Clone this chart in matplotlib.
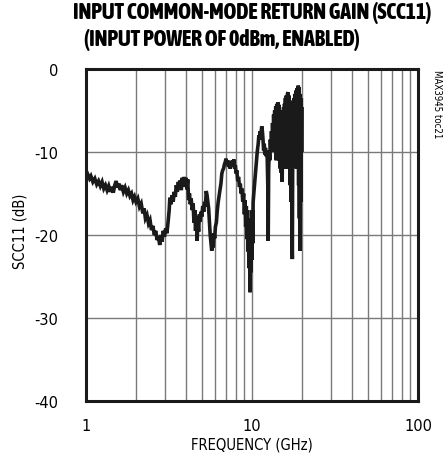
import matplotlib
matplotlib.use("Agg")
import matplotlib.pyplot as plt
from matplotlib import font_manager
from matplotlib.font_manager import FontProperties

freq_ghz = [
    1.01, 1.03, 1.05, 1.07, 1.10, 1.13, 1.16, 1.19, 1.22, 1.25, 1.28, 1.31, 1.34, 1.37, 1.40, 1.43,
    1.46, 1.49, 1.52, 1.55, 1.58, 1.61, 1.64, 1.68, 1.72, 1.76, 1.80, 1.84, 1.88, 1.92, 1.96, 2.00,
    2.05, 2.10, 2.15, 2.20, 2.24, 2.28, 2.33, 2.38, 2.43, 2.48, 2.53, 2.58, 2.63, 2.68, 2.73, 2.78,
    2.82, 2.87, 2.92, 2.97, 3.02, 3.07, 3.12, 3.17, 3.20, 3.25, 3.30, 3.35, 3.40, 3.45, 3.50, 3.55,
    3.60, 3.65, 3.70, 3.75, 3.80, 3.85, 3.90, 3.95, 4.00, 4.05, 4.10, 4.15, 4.20, 4.25, 4.30, 4.36,
    4.42, 4.47, 4.52, 4.57, 4.62, 4.67, 4.72, 4.77, 4.82, 4.87, 4.92, 4.98, 5.05, 5.12, 5.18, 5.24,
    5.30, 5.36, 5.42, 5.48, 5.54, 5.60, 5.66, 5.72, 5.78, 5.84, 5.90, 5.96, 6.02, 6.10, 6.18, 6.26,
    6.34, 6.42, 6.50, 6.58, 6.66, 6.74, 6.82, 6.90, 6.98, 7.06, 7.14, 7.22, 7.30, 7.38, 7.46, 7.54,
    7.62, 7.70, 7.78, 7.86, 7.94, 8.02, 8.10, 8.20, 8.30, 8.40, 8.50, 8.60, 8.70, 8.80, 8.90, 9.00,
    9.08, 9.16, 9.24, 9.32, 9.40, 9.48, 9.55, 9.62, 9.68, 9.74, 9.80, 9.86, 9.92, 9.98, 10.04, 10.10,
    10.16, 10.25, 10.35, 10.45, 10.55, 10.65, 10.75, 10.90, 11.00, 11.10, 11.20, 11.30, 11.45, 11.55, 11.65, 11.75,
    11.85, 11.95, 12.05, 12.15, 12.25, 12.35, 12.45, 12.52, 12.60, 12.70, 12.80, 12.90, 13.00, 13.10, 13.20, 13.30,
    13.40, 13.50, 13.60, 13.70, 13.80, 13.90, 14.00, 14.10, 14.20, 14.30, 14.40, 14.50, 14.60, 14.70, 14.80, 14.90,
    15.00, 15.10, 15.20, 15.30, 15.40, 15.50, 15.60, 15.70, 15.80, 15.90, 16.00, 16.10, 16.20, 16.35, 16.50, 16.60,
    16.70, 16.80, 16.90, 17.00, 17.10, 17.20, 17.30, 17.40, 17.50, 17.60, 17.70, 17.80, 17.90, 18.00, 18.10, 18.25,
    18.40, 18.55, 18.70, 18.85, 19.00, 19.10, 19.20, 19.30, 19.40, 19.50, 19.60, 19.70, 19.80, 19.90, 20.00,
]
scc11_db = [
    -12.4, -12.8, -13.2, -12.9, -13.6, -13.2, -13.9, -13.5, -14.1, -13.6, -14.4, -14.0, -14.6, -14.1, -14.8, -14.2,
    -14.9, -14.0, -13.5, -14.3, -13.8, -14.6, -14.0, -14.8, -14.3, -15.0, -14.6, -15.3, -15.0, -15.8, -15.4, -16.0,
    -15.6, -16.6, -16.2, -17.4, -16.8, -18.0, -17.6, -18.6, -18.2, -19.4, -18.9, -20.0, -19.5, -20.6, -20.2, -21.2,
    -20.0, -20.8, -19.5, -20.2, -19.2, -19.8, -18.5, -17.0, -15.5, -16.3, -15.2, -16.0, -14.8, -15.4, -14.0, -14.8,
    -13.6, -14.5, -13.4, -14.6, -13.1, -14.2, -13.0, -14.0, -13.1, -14.5, -13.3, -15.8, -15.0, -16.3, -15.6, -17.0,
    -16.2, -18.5, -17.0, -19.5, -17.8, -20.7, -18.5, -19.6, -17.5, -18.4, -17.2, -17.8, -16.5, -17.2, -16.0, -16.6,
    -14.7, -15.2, -16.0, -16.8, -18.5, -20.0, -21.0, -21.9, -20.5, -21.5, -19.8, -20.4, -19.0, -18.5, -17.0, -16.0,
    -15.2, -14.5, -13.8, -12.6, -12.2, -12.0, -11.5, -11.2, -10.8, -11.5, -11.0, -11.8, -11.2, -12.0, -11.3, -11.8,
    -11.0, -11.6, -10.9, -12.0, -11.6, -12.6, -12.2, -13.5, -13.0, -14.2, -13.8, -15.0, -14.4, -16.0, -15.0, -17.5,
    -15.8, -19.0, -16.5, -20.5, -17.0, -22.0, -18.0, -24.0, -20.0, -26.9, -21.0, -24.5, -18.0, -23.0, -17.0, -21.0,
    -16.0, -15.0, -14.0, -13.0, -12.0, -11.0, -10.0, -9.0, -8.0, -8.5, -7.5, -8.0, -6.9, -7.5, -8.5, -9.8,
    -9.0, -10.3, -9.5, -10.5, -9.8, -10.8, -14.0, -20.7, -12.0, -10.0, -11.0, -8.5, -10.0, -7.5, -9.5, -6.5,
    -9.0, -5.5, -8.5, -5.0, -10.0, -4.5, -11.0, -4.2, -9.0, -4.0, -6.0, -4.3, -11.0, -5.0, -12.0, -6.0,
    -12.5, -5.5, -13.6, -6.0, -12.0, -4.6, -10.0, -4.2, -9.0, -3.5, -12.0, -3.2, -9.0, -3.0, -2.8, -8.0,
    -3.2, -12.0, -3.8, -14.0, -4.5, -16.0, -5.0, -20.0, -22.9, -8.0, -4.0, -11.0, -3.5, -9.0, -3.0, -10.0,
    -2.6, -12.0, -2.3, -8.0, -2.0, -14.0, -2.2, -18.0, -3.0, -21.9, -4.0, -16.0, -3.5, -10.0, -4.8,
]

x_ticks = [1, 10, 100]
x_tick_labels = ["1", "10", "100"]
y_ticks = [0, -10, -20, -30, -40]
y_tick_labels = ["0", "-10", "-20", "-30", "-40"]

title_1 = "INPUT COMMON-MODE RETURN GAIN (SCC11)"
title_2 = "(INPUT POWER OF 0dBm, ENABLED)"
x_label = "FREQUENCY (GHz)"
y_label = "SCC11 (dB)"
tag = "MAX3945 toc21"


def pick_font(bold):
    cands = []
    for f in font_manager.fontManager.ttflist:
        nm = f.name.lower()
        cond = ("condensed" in nm or "narrow" in nm or
                f.stretch in ("condensed", "semi-condensed", "extra-condensed", 600, 500)
                or "condensed" in f.fname.lower() or "narrow" in f.fname.lower())
        if not cond or f.style != "normal":
            continue
        w = f.weight if isinstance(f.weight, int) else (700 if "bold" in str(f.weight) else 400)
        if "extra" in f.fname.lower() and "condensed" in f.fname.lower():
            pri = 1
        else:
            pri = 0
        cands.append((abs(w - (800 if bold else 400)), pri, f.fname))
    if cands:
        cands.sort()
        return FontProperties(fname=cands[0][2])
    return FontProperties(family="Liberation Sans", weight="bold" if bold else "normal")


FP_REG = pick_font(False)
FP_BOLD = pick_font(True)

W, H = 444, 464
fig = plt.figure(figsize=(W / 100, H / 100), dpi=100)
renderer = fig.canvas.get_renderer()


def size_for_width(text, fp, target_px):
    t = fig.text(0, 0, text, fontproperties=fp, fontsize=10)
    w = t.get_window_extent(renderer).width
    t.remove()
    return 10 * target_px / w


ax = fig.add_axes([86 / W, (H - 402) / H, 332 / W, 332 / H])
ax.plot(freq_ghz, scc11_db, color="#1a1a1a", lw=2.6, solid_joinstyle="miter")

ax.set_xscale("log")
ax.set_xlim(1, 100)
ax.set_ylim(-40, 0)
ax.set_xticks(x_ticks)
ax.set_yticks(y_ticks)
ax.minorticks_on()
ax.yaxis.set_minor_locator(plt.NullLocator())
ax.xaxis.set_minor_formatter(plt.NullFormatter())
ax.grid(True, which="both", axis="x", color="#7a7a7a", lw=1.0)
ax.grid(True, which="major", axis="y", color="#7a7a7a", lw=1.0)
ax.tick_params(which="both", length=0)

tick_fs = min(size_for_width("100", FP_REG, 28), 12.5)
ax.set_xticklabels(x_tick_labels, fontproperties=FP_REG, fontsize=tick_fs)
ax.set_yticklabels(y_tick_labels, fontproperties=FP_REG, fontsize=tick_fs)
ax.tick_params(axis="x", pad=12)
ax.tick_params(axis="y", pad=20)
for sp in ax.spines.values():
    sp.set_linewidth(2.2)
    sp.set_color("#1a1a1a")

xl_fs = min(size_for_width(x_label, FP_REG, 123), 12.5)
yl_fs = min(size_for_width(y_label, FP_REG, 75), 12.5)
fig.text(252 / W, 1 - 445 / H, x_label, fontproperties=FP_REG, fontsize=xl_fs,
         ha="center", va="center")
fig.text(20 / W, 1 - 231 / H, y_label, fontproperties=FP_REG, fontsize=yl_fs,
         ha="center", va="center", rotation=90)

t_fs = min(size_for_width(title_2, FP_BOLD, 278), 17)
t1 = fig.text(0, 1 - 13 / H, title_1, fontproperties=FP_BOLD, fontsize=t_fs,
              ha="left", va="center")
w1 = t1.get_window_extent(renderer).width
x1 = 252 - w1 / 2
if x1 + w1 > 442:
    x1 = 442 - w1
t1.set_x(x1 / W)
fig.text(222 / W, 1 - 40 / H, title_2, fontproperties=FP_BOLD, fontsize=t_fs,
         ha="center", va="center")

tag_fs = min(size_for_width(tag, FP_REG, 68), 9)
fig.text(437 / W, 1 - 70 / H, tag, fontproperties=FP_REG, fontsize=tag_fs,
         rotation=270, ha="center", va="top")

fig.savefig("out.png", dpi=100)
